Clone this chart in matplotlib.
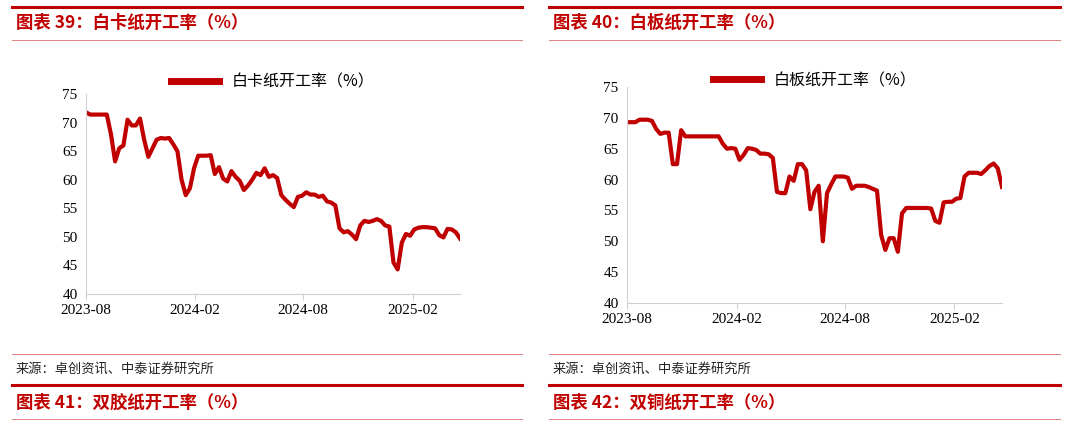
import numpy as np
import pandas as pd
import matplotlib
matplotlib.use('Agg')
import matplotlib.pyplot as plt
import matplotlib.dates as mdates
from matplotlib.lines import Line2D

plt.rcParams['font.family'] = ['Noto Sans CJK SC', 'DejaVu Sans']

RED = '#C00000'
W, H = 1072, 424

# weekly data, starting 2023-08-01
dates = pd.date_range('2023-08-01', periods=91, freq='7D')

baika = [71.8, 71.4, 71.4, 71.4, 71.4, 71.4, 68, 63.2, 65.5, 66,
         70.5, 69.5, 69.5, 70.7, 67, 64, 65.5, 67, 67.3, 67.2,
         67.3, 66.2, 65, 60, 57.3, 58.5, 62, 64.2, 64.2, 64.2,
         64.3, 61, 62.2, 60.2, 59.7, 61.5, 60.5, 59.8, 58.2, 59,
         60, 61.2, 60.8, 62, 60.5, 60.8, 60.3, 57.3, 56.5, 55.8,
         55.2, 57, 57.2, 57.8, 57.4, 57.4, 57, 57.2, 56.2, 56,
         55.5, 51.5, 50.8, 51, 50.4, 49.6, 52, 52.8, 52.6, 52.8,
         53.1, 52.8, 52, 51.8, 45.5, 44.3, 49, 50.5, 50.2, 51.3,
         51.6, 51.7, 51.7, 51.6, 51.5, 50.3, 49.9, 51.4, 51.3, 50.8,
         49.7]

baiban = [69.3, 69.3, 69.3, 69.7, 69.7, 69.7, 69.5, 68.2, 67.4, 67.6,
          67.6, 62.5, 62.5, 68, 67, 67, 67, 67, 67, 67,
          67, 67, 67, 65.8, 65, 65.1, 65, 63.2, 64, 65.1,
          65, 64.8, 64.2, 64.2, 64.1, 63.5, 58, 57.8, 57.8, 60.5,
          59.8, 62.5, 62.5, 61.5, 55.2, 58, 59, 50, 57.8, 59.2,
          60.5, 60.5, 60.5, 60.3, 58.5, 59, 59, 59, 58.8, 58.5,
          58.2, 51, 48.6, 50.5, 50.5, 48.3, 54.5, 55.4, 55.4, 55.4,
          55.4, 55.4, 55.4, 55.3, 53.3, 53, 56.3, 56.4, 56.4, 56.9,
          57, 60.5, 61.1, 61.1, 61.1, 60.9, 61.5, 62.2, 62.6, 61.8,
          58.8]

xticks = pd.to_datetime(['2023-08-01', '2024-02-01', '2024-08-01', '2025-02-01'])
xlabels = ['2023-08', '2024-02', '2024-08', '2025-02']

fig = plt.figure(figsize=(W / 100, H / 100), dpi=100)


def fx(px):
    return px / W


def fy(py):
    return 1 - py / H


def hline(x0, x1, y, lw, color):
    fig.add_artist(Line2D([fx(x0), fx(x1)], [fy(y), fy(y)], lw=lw, color=color,
                          transform=fig.transFigure))


def panel(x0, x1, title, bottom_title, ax_box, values, label, leg_y):
    hline(x0, x1, 7, 2.2, RED)
    fig.text(fx(x0 + 4), fy(23), title, color=RED, fontsize=12.5, fontweight='bold',
             style='italic', va='center', ha='left')
    hline(x0, x1, 40, 0.7, '#E08080')
    hline(x0, x1, 354, 0.7, '#E08080')
    fig.text(fx(x0 + 4), fy(369), '来源：卓创资讯、中泰证券研究所', fontsize=9.5,
             color='#222222', va='center', ha='left')
    hline(x0, x1, 385, 2.2, RED)
    fig.text(fx(x0 + 4), fy(403), bottom_title, color=RED, fontsize=12.5, fontweight='bold',
             style='italic', va='center', ha='left')
    hline(x0, x1, 419, 0.7, '#E08080')

    ax = fig.add_axes(ax_box)
    ax.plot(dates, values, color=RED, lw=3, solid_joinstyle='round', label=label)
    ax.set_ylim(40, 75)
    ax.set_yticks(range(40, 80, 5))
    ax.set_xlim(dates[0], dates[-1])
    ax.set_xticks(xticks)
    ax.set_xticklabels(xlabels)
    for s in ['top', 'right']:
        ax.spines[s].set_visible(False)
    for s in ['left', 'bottom']:
        ax.spines[s].set_color('#D0D0D0')
    ax.tick_params(axis='y', length=0, labelsize=11, pad=6)
    ax.tick_params(axis='x', length=4, color='#D0D0D0', labelsize=11, pad=3)
    for t in ax.get_xticklabels() + ax.get_yticklabels():
        t.set_fontfamily('Liberation Serif')
    leg = ax.legend(loc='center', bbox_to_anchor=(0.5, leg_y), frameon=False,
                    fontsize=11.5, handlelength=3, handletextpad=0.8)
    for h in leg.get_lines():
        h.set_linewidth(5)
    return ax


panel(12, 522, '图表 39：白卡纸开工率（%）', '图表 41：双胶纸开工率（%）',
      [fx(86), fy(294), fx(460) - fx(86), fy(94) - fy(294)], baika, '白卡纸开工率（%）', 1.06)
panel(549, 1060, '图表 40：白板纸开工率（%）', '图表 42：双铜纸开工率（%）',
      [fx(627), fy(303), fx(1002) - fx(627), fy(87) - fy(303)], baiban, '白板纸开工率（%）', 1.03)

fig.savefig('out.png', dpi=100)
